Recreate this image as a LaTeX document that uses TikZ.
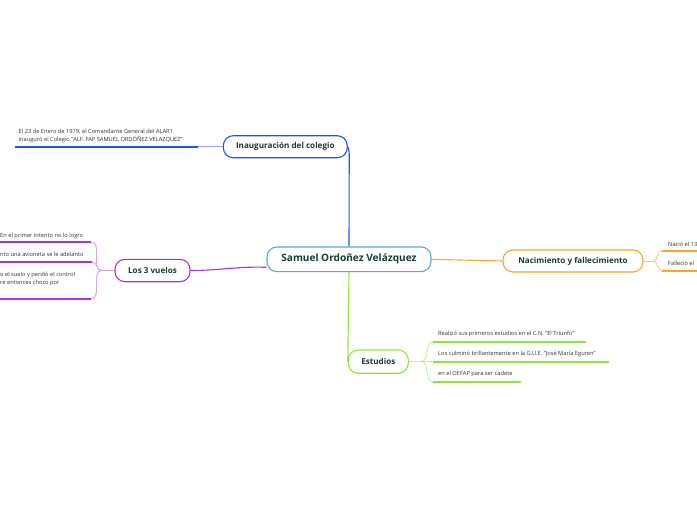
\documentclass[tikz,border=0pt]{standalone}
\usepackage{fontspec}
\setmainfont{Open Sans}
\definecolor{txt}{HTML}{1B3B34}
\definecolor{txtb}{HTML}{333333}
\definecolor{cBlue}{HTML}{5AA5E6}
\definecolor{iBlue}{HTML}{1E54F0}
\definecolor{iBlueL}{HTML}{8FA8F5}
\definecolor{cPurple}{HTML}{A530F0}
\definecolor{cPurpleL}{HTML}{D6A2F7}
\definecolor{cOrange}{HTML}{F9A630}
\definecolor{cOrangeL}{HTML}{FBC97A}
\definecolor{cGreen}{HTML}{8EE53F}
\definecolor{cGreenL}{HTML}{C2F095}
\begin{document}
\begin{tikzpicture}[x=1pt,y=-1pt,
  title/.style={draw, rounded corners=10pt, line width=1.1pt, fill=white,
    font=\bfseries\fontsize{8.1}{9}\selectfont, text=txt, inner sep=0pt, align=center},
  leaf/.style={font=\fontsize{5.7}{6.6}\selectfont, text=txtb, anchor=base west, inner sep=0pt},
  conn/.style={line width=1.1pt},
  uline/.style={line width=1.8pt},
  fork/.style={line width=0.9pt}]
\useasboundingbox (0,0) rectangle (697,520);
\fill[white] (0,0) rectangle (697,520);
\clip (0,0) rectangle (697,520);

% main nodes
\node[title, draw=cBlue, minimum width=164pt, minimum height=24.7pt,
  font=\bfseries\fontsize{10.1}{12}\selectfont] (ctr) at (349,259.3) {Samuel Ordoñez Velázquez};
\node[title, draw=iBlue, minimum width=124pt, minimum height=22pt] (inaug) at (285.3,146.7) {Inauguración del colegio};
\node[title, draw=cPurple, minimum width=75pt, minimum height=22.4pt] (v3) at (152.5,270.5) {Los 3 vuelos};
\node[title, draw=cOrange, minimum width=140pt, minimum height=22pt] (nac) at (573,261) {Nacimiento y fallecimiento};
\node[title, draw=cGreen, minimum width=60pt, minimum height=23.3pt] (est) at (378.3,361.6) {Estudios};

% central connectors
\draw[conn, draw=iBlue] (inaug.east) to[out=-70,in=90] ([xshift=1.4pt,yshift=-8pt]inaug.east) -- (ctr.north);
\draw[conn, draw=cGreen] (ctr.south) -- (est.west);
\draw[conn, draw=cPurple] ([yshift=-8pt]ctr.west) to[out=178,in=0] (v3.east);
\draw[conn, draw=cOrange] (ctr.east) -- (nac.west);

% Inauguracion branch
\coordinate (i1a) at (15,146.7);
\coordinate (i1b) at (198,146.7);
\draw[conn, draw=iBlueL] (inaug.west) -- (i1b);
\draw[uline, draw=iBlue] (i1a) -- (i1b);
\node[leaf] (it1) at (18.5,133.2) {El 23 de Enero de 1979, el Comandante General del ALAR1};
\node[leaf] (it2) at (18.5,141.6) {inauguró el Colegio "ALF. FAP SAMUEL ORDÓÑEZ VELAZQUEZ"};

% Los 3 vuelos branch
\coordinate (vf) at (102,270.5);
\coordinate (l1a) at (0,242);
\coordinate (l1b) at (91,242);
\coordinate (l2a) at (0,262);
\coordinate (l2b) at (92,262);
\coordinate (l3a) at (0,298.7);
\coordinate (l3b) at (91,298.7);
\draw[fork, draw=cPurpleL] (v3.west) -- (vf);
\draw[fork, draw=cPurpleL] (vf) to[out=180,in=0] (l1b);
\draw[fork, draw=cPurpleL] (vf) to[out=180,in=0] (l2b);
\draw[fork, draw=cPurpleL] (vf) to[out=180,in=0] (l3b);
\draw[uline, draw=cPurple] (l1a) -- (l1b);
\draw[uline, draw=cPurple] (l2a) -- (l2b);
\draw[uline, draw=cPurple] (l3a) -- (l3b);
\node[leaf] (vt1) at (0,237) {En el primer intento no lo logro};
\node[leaf] (vt2) at (0,256.8) {nto una avioneta se le adelanto};
\node[leaf] (vt3) at (0,276) {o el suelo y perdió el control};
\node[leaf] (vt4) at (0,284.3) {re entonces choco por};

% Nacimiento branch
\coordinate (nf) at (653,261);
\coordinate (n1a) at (662,250.7);
\coordinate (n1b) at (697,250.7);
\coordinate (n2a) at (662,270.7);
\coordinate (n2b) at (697,270.7);
\draw[fork, draw=cOrangeL] (nac.east) -- (nf);
\draw[fork, draw=cOrangeL] (nf) to[out=0,in=180] (n1a);
\draw[fork, draw=cOrangeL] (nf) to[out=0,in=180] (n2a);
\draw[uline, draw=cOrange] (n1a) -- (n1b);
\draw[uline, draw=cOrange] (n2a) -- (n2b);
\node[leaf] (nt1) at (668,246) {Nació el 13};
\node[leaf] (nt2) at (668,265.4) {Falleció el};

% Estudios branch
\coordinate (ef) at (421,361.6);
\coordinate (e1a) at (433,341.7);
\coordinate (e1b) at (585.7,341.7);
\coordinate (e2a) at (433,361.7);
\coordinate (e2b) at (609,361.7);
\coordinate (e3a) at (433,381.7);
\coordinate (e3b) at (521,381.7);
\draw[fork, draw=cGreenL] (est.east) -- (ef);
\draw[fork, draw=cGreenL] (ef) to[out=0,in=180] (e1a);
\draw[fork, draw=cGreenL] (ef) to[out=0,in=180] (e2a);
\draw[fork, draw=cGreenL] (ef) to[out=0,in=180] (e3a);
\draw[uline, draw=cGreen] (e1a) -- (e1b);
\draw[uline, draw=cGreen] (e2a) -- (e2b);
\draw[uline, draw=cGreen] (e3a) -- (e3b);
\node[leaf] (et1) at (438,335.3) {Realizó sus primeros estudios en el C.N. "El Triunfo"};
\node[leaf] (et2) at (438,355.5) {Los culminó brillantemente en la G.U.E. "José María Eguren"};
\node[leaf] (et3) at (438,375.5) {en el OEFAP para ser cadete};
\end{tikzpicture}
\end{document}
